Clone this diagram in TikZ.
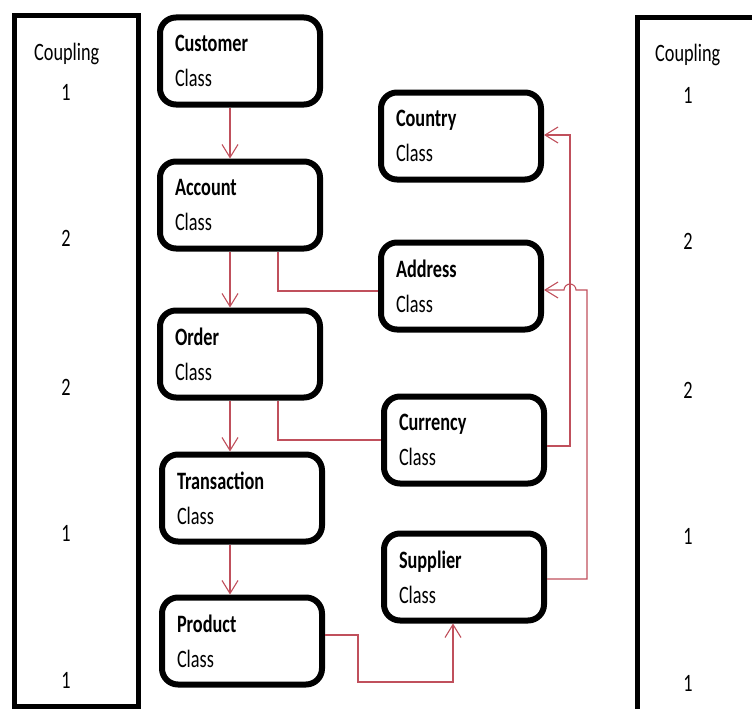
\documentclass[tikz,border=0pt]{standalone}
\usepackage{fontspec}
\setmainfont{Carlito}[FakeStretch=0.73]
\usetikzlibrary{arrows.meta,calc}

\definecolor{linkred}{RGB}{192,80,92}

\tikzset{
	classbox/.style={draw, line width=6pt, rounded corners=16pt, align=left,
		text width=130pt, inner xsep=15pt, inner ysep=0pt, minimum height=87pt,
		font=\fontsize{25}{35}\selectfont},
	couplebox/.style={line width=5pt},
	link/.style={draw=linkred, line width=1.1pt},
	linkarrow/.style={link, -{Straight Barb[length=13pt,width=16pt]}},
	cnum/.style={inner sep=0pt, font=\fontsize{25}{30}\selectfont}
}

\begin{document}
\begin{tikzpicture}[x=1pt,y=-1pt]
		\useasboundingbox (0,0) rectangle (752,709);
		%draw coupling columns
		\draw[couplebox] (14.5,15.5) rectangle (138.5,706);
		\draw[couplebox] (756,17.5) -- (637.5,17.5) -- (637.5,712);
		\node[cnum, anchor=base west] (lhead) at (34,60) {Coupling};
		\node[cnum, anchor=base west] (rhead) at (655,62) {Coupling};
		\foreach \n/\y [count=\k] in {1/92, 2/238, 2/387, 1/533, 1/680}{
			\node[cnum] (lc\k) at (66,\y) {\n};
			\node[cnum] (rc\k) at (688,\y+3) {\n};
		}
		%draw classes
		\node[classbox] (cust) at (240,61) {\textbf{Customer}\\Class};
		\node[classbox] (acct) at (240,205) {\textbf{Account}\\Class};
		\node[classbox] (ordr) at (240,354) {\textbf{Order}\\Class};
		\node[classbox] (trns) at (242,498) {\textbf{Transaction}\\Class};
		\node[classbox] (prod) at (242,641) {\textbf{Product}\\Class};
		\node[classbox] (ctry) at (461,136) {\textbf{Country}\\Class};
		\node[classbox] (addr) at (461,286) {\textbf{Address}\\Class};
		\node[classbox] (curr) at (464,440) {\textbf{Currency}\\Class};
		\node[classbox] (supp) at (464,577) {\textbf{Supplier}\\Class};
		%draw links
		\draw[linkarrow] ([xshift=-10pt]cust.south) -- ([xshift=-10pt]acct.north);
		\draw[linkarrow] ([xshift=-10pt]acct.south) -- ([xshift=-10pt]ordr.north);
		\draw[linkarrow] ([xshift=-10pt]ordr.south) -- ([xshift=-10pt]ordr.south |- trns.north);
		\draw[linkarrow] ([xshift=-12pt]trns.south) -- ([xshift=-12pt]prod.north);
		\draw[link] ([xshift=38pt]acct.south) |- ([yshift=-5pt]addr.west);
		\draw[link] ([xshift=38pt]ordr.south) |- (curr.west);
		\draw[linkarrow] ([yshift=-6pt]curr.east) -- ++(23,0) |- ([yshift=1pt]ctry.east);
		\draw[linkarrow] ([yshift=-2pt]supp.east) -- ++(40,0)
			|- ([xshift=32pt,yshift=-4pt]addr.east) arc[start angle=0, end angle=180, radius=6pt]
			-- ([yshift=-4pt]addr.east);
		\coordinate (pbend) at (358,682);
		\draw[linkarrow] ([yshift=6pt]prod.east) -| (pbend) -| ([xshift=-11pt]supp.south);
\end{tikzpicture}
\end{document}
